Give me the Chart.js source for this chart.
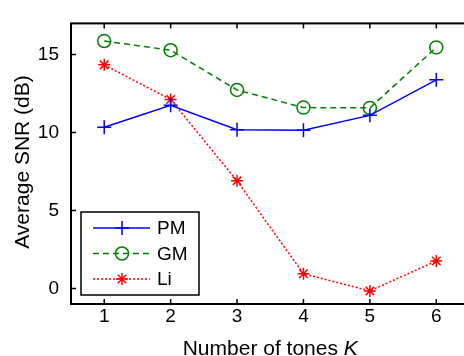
<!DOCTYPE html>
<html>
<head>
<meta charset="utf-8">
<script src="https://cdn.jsdelivr.net/npm/chart.js@4.4.0/dist/chart.umd.min.js"></script>
<style>
  html, body { margin: 0; padding: 0; overflow: hidden; background: #fff; }
  #wrap { width: 478px; height: 356px; }
</style>
</head>
<body>
<div id="wrap"><canvas id="snrChart" width="478" height="356"></canvas></div>
<script>
// data
const tones = [1, 2, 3, 4, 5, 6];
const pmSnr = [10.34, 11.75, 10.18, 10.14, 11.10, 13.38];
const gmSnr = [15.87, 15.28, 12.73, 11.60, 11.58, 15.46];
const liSnr = [14.34, 12.12, 6.90, 0.94, -0.16, 1.76];
const yTicks = [0, 5, 10, 15];
const seriesNames = ['PM', 'GM', 'Li'];
const xTitle = 'Number of tones ';
const xTitleVar = 'K';
const yTitle = 'Average SNR (dB)';

const FONT = "'Liberation Sans', Arial, sans-serif";

function toPoints(vals) {
    return tones.map(function(k, i) { return { x: k, y: vals[i] }; });
}

// MATLAB style box, inward ticks, axis labels and legend
const matlabFrame = {
    id: 'matlabFrame',
    afterDatasetsDraw: function(chart) {
        const ctx = chart.ctx;
        const a = chart.chartArea;
        const xs = chart.scales.x, ys = chart.scales.y;
        ctx.save();
        ctx.strokeStyle = '#000';
        ctx.lineWidth = 2;
        ctx.strokeRect(a.left, a.top, a.right - a.left, a.bottom - a.top);
        ctx.lineWidth = 1.5;
        ctx.beginPath();
        tones.forEach(function(k) {
            const px = xs.getPixelForValue(k);
            ctx.moveTo(px, a.bottom); ctx.lineTo(px, a.bottom - 5);
            ctx.moveTo(px, a.top); ctx.lineTo(px, a.top + 5);
        });
        yTicks.forEach(function(v) {
            const py = ys.getPixelForValue(v);
            ctx.moveTo(a.left, py); ctx.lineTo(a.left + 5, py);
            ctx.moveTo(a.right, py); ctx.lineTo(a.right - 5, py);
        });
        ctx.stroke();

        // axis titles (K in italics)
        ctx.fillStyle = '#000';
        ctx.textBaseline = 'alphabetic';
        ctx.font = '21px ' + FONT;
        const w1 = ctx.measureText(xTitle).width;
        ctx.font = 'italic 21px ' + FONT;
        const w2 = ctx.measureText(xTitleVar).width;
        let tx = (a.left + a.right) / 2 - (w1 + w2) / 2;
        ctx.font = '21px ' + FONT;
        ctx.textAlign = 'left';
        ctx.fillText(xTitle, tx, 355);
        ctx.font = 'italic 21px ' + FONT;
        ctx.fillText(xTitleVar, tx + w1, 355);

        ctx.save();
        ctx.translate(29, 162);
        ctx.rotate(-Math.PI / 2);
        ctx.font = '21px ' + FONT;
        ctx.textAlign = 'center';
        ctx.fillText(yTitle, 0, 0);
        ctx.restore();

        // legend
        const bx = 81, by = 212, bw = 118, bh = 83;
        ctx.fillStyle = '#fff';
        ctx.fillRect(bx, by, bw, bh);
        ctx.lineWidth = 1.5;
        ctx.strokeStyle = '#000';
        ctx.strokeRect(bx, by, bw, bh);
        ctx.textBaseline = 'middle';
        ctx.textAlign = 'left';
        chart.data.datasets.forEach(function(ds, i) {
            const ly = 228 + i * 25.5;
            ctx.strokeStyle = ds.borderColor;
            ctx.lineWidth = ds.borderWidth;
            ctx.setLineDash(ds.borderDash || []);
            ctx.beginPath();
            ctx.moveTo(93, ly); ctx.lineTo(150, ly);
            ctx.stroke();
            ctx.setLineDash([]);
            ctx.fillStyle = 'rgba(0,0,0,0)';
            ctx.strokeStyle = ds.pointBorderColor;
            ctx.lineWidth = ds.pointBorderWidth;
            Chart.helpers.drawPoint(ctx, {
                pointStyle: ds.pointStyle, radius: ds.pointRadius,
                rotation: 0, borderWidth: ds.pointBorderWidth
            }, 122, ly);
            ctx.fillStyle = '#000';
            ctx.font = '19px ' + FONT;
            ctx.fillText(ds.label, 157, ly + 1);
        });
        ctx.restore();
    }
};

new Chart(document.getElementById('snrChart'), {
    type: 'line',
    data: {
        datasets: [{
            label: seriesNames[0],
            data: toPoints(pmSnr),
            borderColor: '#0000ff',
            backgroundColor: 'transparent',
            borderWidth: 1.5,
            pointStyle: 'cross',
            pointRadius: 7,
            pointBorderWidth: 1.5,
            pointBorderColor: '#0000ff'
        }, {
            label: seriesNames[1],
            data: toPoints(gmSnr),
            borderColor: '#008000',
            backgroundColor: 'transparent',
            borderWidth: 1.5,
            borderDash: [6, 4],
            pointStyle: 'circle',
            pointRadius: 6.5,
            pointBorderWidth: 1.5,
            pointBorderColor: '#008000',
            pointBackgroundColor: 'transparent'
        }, {
            label: seriesNames[2],
            data: toPoints(liSnr),
            borderColor: '#ff0000',
            backgroundColor: 'transparent',
            borderWidth: 1.5,
            borderDash: [2, 2],
            pointStyle: 'star',
            pointRadius: 6,
            pointBorderWidth: 1.5,
            pointBorderColor: '#ff0000'
        }]
    },
    options: {
        responsive: false,
        animation: false,
        devicePixelRatio: 1,
        layout: { padding: { top: 10, right: 2, left: 0, bottom: 0 } },
        plugins: { legend: { display: false }, tooltip: { enabled: false } },
        elements: { line: { tension: 0 } },
        scales: {
            x: {
                type: 'linear',
                min: 0.5, max: 6.5,
                grid: { display: false, drawTicks: false },
                border: { display: false },
                afterBuildTicks: function(s) { s.ticks = tones.map(function(v) { return { value: v }; }); },
                afterFit: function(s) { s.height = 52; },
                ticks: { color: '#000', padding: 1, font: { family: FONT, size: 19 }, maxRotation: 0 }
            },
            y: {
                min: -1, max: 17,
                grid: { display: false, drawTicks: false },
                border: { display: false },
                afterBuildTicks: function(s) { s.ticks = yTicks.map(function(v) { return { value: v }; }); },
                afterFit: function(s) { s.width = 71; },
                ticks: { color: '#000', padding: 12, font: { family: FONT, size: 19 } }
            }
        }
    },
    plugins: [matlabFrame]
});
</script>
</body>
</html>
